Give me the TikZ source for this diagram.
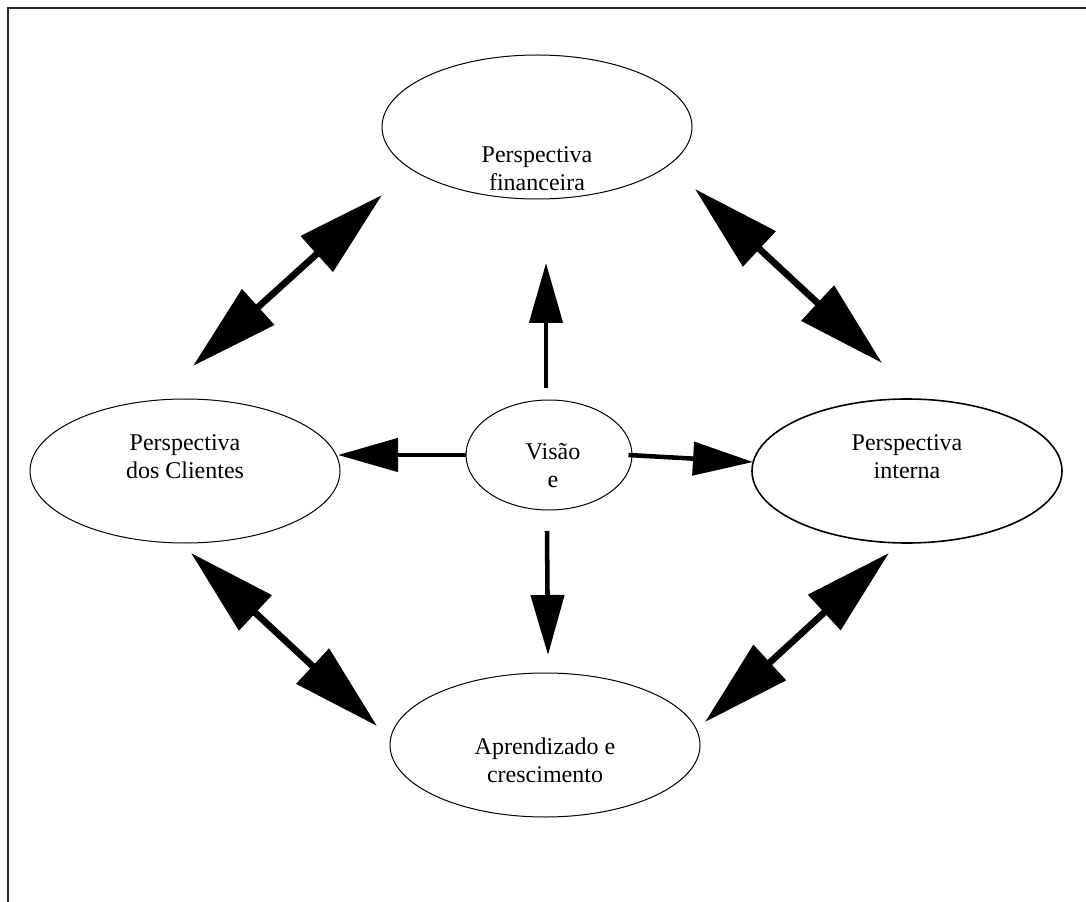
\documentclass[tikz,border=0pt]{standalone}
\usepackage{fontspec}
\setmainfont{Liberation Serif}
\usetikzlibrary{arrows.meta,shapes.geometric}
\begin{document}
\begin{tikzpicture}[x=0.75pt,y=-0.75pt,
  oval/.style={draw, ellipse, line width=0.75pt, inner sep=0pt,
    minimum width=310*0.75pt, minimum height=144*0.75pt},
  lbl/.style={align=center, font=\fontsize{18}{21}\selectfont, inner sep=0pt},
  spoke/.style={line width=3.4pt, -{Triangle[length=45pt,width=24.75pt]}},
  link/.style={line width=5pt,
    {Triangle[length=66pt,width=35pt]}-{Triangle[length=66pt,width=35pt]}},
  frame/.style={line width=1.2pt, draw=black!85}]
\useasboundingbox (0,0) rectangle (1086,902);
\draw[frame] (8,902) -- (8,8) -- (1086,8);

% the five perspectives
\node[oval] (fin) at (537,127) {};
\node[oval] (cli) at (185,471) {};
\node[oval, line width=1.2pt] (int) at (907,471) {};
\node[oval] (apr) at (545,745) {};
\node[oval, minimum width=166*0.75pt, minimum height=110*0.75pt] (vis) at (549,455) {};

\node[lbl] (finT) at (537,169) {Perspectiva\\financeira};
\node[lbl] (cliT) at (185,457) {Perspectiva\\dos Clientes};
\node[lbl] (intT) at (907,457) {Perspectiva\\interna};
\node[lbl] (aprT) at (545,760) {Aprendizado e\\crescimento};
\node[lbl] (visT) at (553,466) {Visão\\e};

% arrows leaving the vision
\coordinate (upA) at (546,388);
\coordinate (upB) at (546,263);
\coordinate (dnA) at (547,531);
\coordinate (dnB) at (548,655);
\coordinate (ltB) at (338,455);
\coordinate (rtB) at (753,462);
\draw[spoke] (upA) -- (upB);
\draw[spoke] (dnA) -- (dnB);
\draw[spoke] (vis.west) -- (ltB);
\draw[spoke] ([xshift=-3pt]vis.east) -- (rtB);

% links between neighbouring perspectives
\coordinate (tlA) at (193,366);
\coordinate (tlB) at (382,195);
\coordinate (trA) at (695,189);
\coordinate (trB) at (882,363);
\coordinate (blA) at (191,553);
\coordinate (blB) at (377,726);
\coordinate (brA) at (889,553);
\coordinate (brB) at (705,722);
\draw[link] (tlA) -- (tlB);
\draw[link] (trA) -- (trB);
\draw[link] (blA) -- (blB);
\draw[link] (brA) -- (brB);
\end{tikzpicture}
\end{document}
